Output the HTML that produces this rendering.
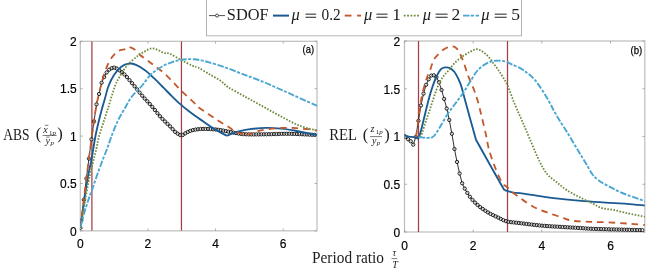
<!DOCTYPE html>
<html><head><meta charset="utf-8"><style>
html,body{margin:0;padding:0;background:#fff;}
body{width:650px;height:271px;overflow:hidden;}
svg{display:block;will-change:transform;}
.tk{font-family:"Liberation Sans",sans-serif;font-size:13.5px;fill:#000;stroke:#000;stroke-width:0.2px;}
.pl{font-family:"Liberation Sans",sans-serif;font-size:11.5px;fill:#000;stroke:#000;stroke-width:0.25px;}
.lg{font-family:"Liberation Serif",serif;font-size:16.5px;fill:#1c1c1c;}
.mu{font-style:italic;}
.dg{font-size:17.5px;}
.it{font-style:italic;}
.fr{font-family:"Liberation Serif",serif;font-size:10px;fill:#222;}
.sub{font-family:"Liberation Serif",serif;font-size:7px;fill:#222;}
.par{font-family:"Liberation Serif",serif;font-size:16.5px;fill:#222;}
</style></head><body>
<svg width="650" height="271" viewBox="0 0 650 271">
<rect x="80.30" y="41.30" width="236.70" height="189.55" fill="#fff" stroke="#bdbdbd" stroke-width="1.2"/>
<line x1="80.30" y1="230.85" x2="80.30" y2="228.45" stroke="#9a9a9a" stroke-width="0.8"/>
<line x1="80.30" y1="41.30" x2="80.30" y2="43.70" stroke="#9a9a9a" stroke-width="0.8"/>
<line x1="147.93" y1="230.85" x2="147.93" y2="228.45" stroke="#9a9a9a" stroke-width="0.8"/>
<line x1="147.93" y1="41.30" x2="147.93" y2="43.70" stroke="#9a9a9a" stroke-width="0.8"/>
<line x1="215.56" y1="230.85" x2="215.56" y2="228.45" stroke="#9a9a9a" stroke-width="0.8"/>
<line x1="215.56" y1="41.30" x2="215.56" y2="43.70" stroke="#9a9a9a" stroke-width="0.8"/>
<line x1="283.19" y1="230.85" x2="283.19" y2="228.45" stroke="#9a9a9a" stroke-width="0.8"/>
<line x1="283.19" y1="41.30" x2="283.19" y2="43.70" stroke="#9a9a9a" stroke-width="0.8"/>
<line x1="80.30" y1="230.85" x2="82.70" y2="230.85" stroke="#9a9a9a" stroke-width="0.8"/>
<line x1="317.00" y1="230.85" x2="314.60" y2="230.85" stroke="#9a9a9a" stroke-width="0.8"/>
<line x1="80.30" y1="183.46" x2="82.70" y2="183.46" stroke="#9a9a9a" stroke-width="0.8"/>
<line x1="317.00" y1="183.46" x2="314.60" y2="183.46" stroke="#9a9a9a" stroke-width="0.8"/>
<line x1="80.30" y1="136.07" x2="82.70" y2="136.07" stroke="#9a9a9a" stroke-width="0.8"/>
<line x1="317.00" y1="136.07" x2="314.60" y2="136.07" stroke="#9a9a9a" stroke-width="0.8"/>
<line x1="80.30" y1="88.69" x2="82.70" y2="88.69" stroke="#9a9a9a" stroke-width="0.8"/>
<line x1="317.00" y1="88.69" x2="314.60" y2="88.69" stroke="#9a9a9a" stroke-width="0.8"/>
<line x1="80.30" y1="41.30" x2="82.70" y2="41.30" stroke="#9a9a9a" stroke-width="0.8"/>
<line x1="317.00" y1="41.30" x2="314.60" y2="41.30" stroke="#9a9a9a" stroke-width="0.8"/>
<rect x="404.50" y="41.00" width="240.30" height="191.00" fill="#fff" stroke="#bdbdbd" stroke-width="1.2"/>
<line x1="404.50" y1="232.00" x2="404.50" y2="229.60" stroke="#9a9a9a" stroke-width="0.8"/>
<line x1="404.50" y1="41.00" x2="404.50" y2="43.40" stroke="#9a9a9a" stroke-width="0.8"/>
<line x1="473.16" y1="232.00" x2="473.16" y2="229.60" stroke="#9a9a9a" stroke-width="0.8"/>
<line x1="473.16" y1="41.00" x2="473.16" y2="43.40" stroke="#9a9a9a" stroke-width="0.8"/>
<line x1="541.81" y1="232.00" x2="541.81" y2="229.60" stroke="#9a9a9a" stroke-width="0.8"/>
<line x1="541.81" y1="41.00" x2="541.81" y2="43.40" stroke="#9a9a9a" stroke-width="0.8"/>
<line x1="610.47" y1="232.00" x2="610.47" y2="229.60" stroke="#9a9a9a" stroke-width="0.8"/>
<line x1="610.47" y1="41.00" x2="610.47" y2="43.40" stroke="#9a9a9a" stroke-width="0.8"/>
<line x1="404.50" y1="232.00" x2="406.90" y2="232.00" stroke="#9a9a9a" stroke-width="0.8"/>
<line x1="644.80" y1="232.00" x2="642.40" y2="232.00" stroke="#9a9a9a" stroke-width="0.8"/>
<line x1="404.50" y1="184.25" x2="406.90" y2="184.25" stroke="#9a9a9a" stroke-width="0.8"/>
<line x1="644.80" y1="184.25" x2="642.40" y2="184.25" stroke="#9a9a9a" stroke-width="0.8"/>
<line x1="404.50" y1="136.50" x2="406.90" y2="136.50" stroke="#9a9a9a" stroke-width="0.8"/>
<line x1="644.80" y1="136.50" x2="642.40" y2="136.50" stroke="#9a9a9a" stroke-width="0.8"/>
<line x1="404.50" y1="88.75" x2="406.90" y2="88.75" stroke="#9a9a9a" stroke-width="0.8"/>
<line x1="644.80" y1="88.75" x2="642.40" y2="88.75" stroke="#9a9a9a" stroke-width="0.8"/>
<line x1="404.50" y1="41.00" x2="406.90" y2="41.00" stroke="#9a9a9a" stroke-width="0.8"/>
<line x1="644.80" y1="41.00" x2="642.40" y2="41.00" stroke="#9a9a9a" stroke-width="0.8"/>
<defs><clipPath id="cl"><rect x="80.30" y="41.30" width="236.70" height="189.55"/></clipPath><clipPath id="cr"><rect x="404.50" y="41.00" width="240.30" height="191.00"/></clipPath></defs>
<g clip-path="url(#cl)">
<line x1="91.90" y1="41.30" x2="91.90" y2="230.85" stroke="#a23e4a" stroke-width="1.25"/>
<line x1="181.45" y1="41.30" x2="181.45" y2="230.85" stroke="#a23e4a" stroke-width="1.25"/>
<path d="M80.40,227.80 L81.31,220.43 L83.85,199.82 L86.39,178.50 L88.92,158.60 L91.46,139.31 L93.99,121.41 L96.53,104.34 L99.07,93.97 L101.60,82.74 L104.14,77.08 L106.68,72.47 L109.21,69.72 L111.75,68.15 L114.28,67.61 L116.82,68.58 L119.36,70.30 L121.89,72.18 L124.43,74.44 L126.96,77.14 L129.50,80.18 L132.04,83.20 L134.57,86.26 L137.11,89.38 L139.64,92.61 L142.18,95.71 L144.72,98.57 L147.25,101.30 L149.79,104.04 L152.32,106.91 L154.86,109.99 L157.40,113.15 L159.93,116.20 L162.47,118.96 L165.00,121.49 L167.54,123.92 L170.08,126.38 L172.61,129.12 L175.15,131.84 L177.69,133.67 L180.22,135.00 L182.76,134.97 L185.29,133.35 L187.83,131.91 L190.37,130.85 L192.90,130.12 L195.44,129.61 L197.97,129.25 L200.51,129.02 L203.05,128.93 L205.58,128.92 L208.12,128.98 L210.65,129.08 L213.19,129.25 L215.73,129.49 L218.26,129.79 L220.80,130.16 L223.33,130.61 L225.87,131.11 L228.41,131.61 L230.94,132.09 L233.48,132.60 L236.01,133.09 L238.55,133.53 L241.09,133.86 L243.62,134.13 L246.16,134.29 L248.70,134.37 L251.23,134.41 L253.77,134.42 L256.30,134.40 L258.84,134.38 L261.38,134.34 L263.91,134.30 L266.45,134.26 L268.98,134.22 L271.52,134.17 L274.06,134.10 L276.59,134.02 L279.13,133.93 L281.66,133.85 L284.20,133.80 L286.74,133.78 L289.27,133.79 L291.81,133.84 L294.34,133.92 L296.88,134.02 L299.42,134.12 L301.95,134.24 L304.49,134.36 L307.02,134.49 L309.56,134.62 L312.10,134.76 L314.63,134.89" fill="none" stroke="#1a1a1a" stroke-width="0.9"/>
<circle cx="80.40" cy="227.80" r="1.65" fill="#fff" fill-opacity="0.6" stroke="#000" stroke-width="0.85"/>
<circle cx="81.31" cy="220.43" r="1.65" fill="#fff" fill-opacity="0.6" stroke="#000" stroke-width="0.85"/>
<circle cx="83.85" cy="199.82" r="1.65" fill="#fff" fill-opacity="0.6" stroke="#000" stroke-width="0.85"/>
<circle cx="86.39" cy="178.50" r="1.65" fill="#fff" fill-opacity="0.6" stroke="#000" stroke-width="0.85"/>
<circle cx="88.92" cy="158.60" r="1.65" fill="#fff" fill-opacity="0.6" stroke="#000" stroke-width="0.85"/>
<circle cx="91.46" cy="139.31" r="1.65" fill="#fff" fill-opacity="0.6" stroke="#000" stroke-width="0.85"/>
<circle cx="93.99" cy="121.41" r="1.65" fill="#fff" fill-opacity="0.6" stroke="#000" stroke-width="0.85"/>
<circle cx="96.53" cy="104.34" r="1.65" fill="#fff" fill-opacity="0.6" stroke="#000" stroke-width="0.85"/>
<circle cx="99.07" cy="93.97" r="1.65" fill="#fff" fill-opacity="0.6" stroke="#000" stroke-width="0.85"/>
<circle cx="101.60" cy="82.74" r="1.65" fill="#fff" fill-opacity="0.6" stroke="#000" stroke-width="0.85"/>
<circle cx="104.14" cy="77.08" r="1.65" fill="#fff" fill-opacity="0.6" stroke="#000" stroke-width="0.85"/>
<circle cx="106.68" cy="72.47" r="1.65" fill="#fff" fill-opacity="0.6" stroke="#000" stroke-width="0.85"/>
<circle cx="109.21" cy="69.72" r="1.65" fill="#fff" fill-opacity="0.6" stroke="#000" stroke-width="0.85"/>
<circle cx="111.75" cy="68.15" r="1.65" fill="#fff" fill-opacity="0.6" stroke="#000" stroke-width="0.85"/>
<circle cx="114.28" cy="67.61" r="1.65" fill="#fff" fill-opacity="0.6" stroke="#000" stroke-width="0.85"/>
<circle cx="116.82" cy="68.58" r="1.65" fill="#fff" fill-opacity="0.6" stroke="#000" stroke-width="0.85"/>
<circle cx="119.36" cy="70.30" r="1.65" fill="#fff" fill-opacity="0.6" stroke="#000" stroke-width="0.85"/>
<circle cx="121.89" cy="72.18" r="1.65" fill="#fff" fill-opacity="0.6" stroke="#000" stroke-width="0.85"/>
<circle cx="124.43" cy="74.44" r="1.65" fill="#fff" fill-opacity="0.6" stroke="#000" stroke-width="0.85"/>
<circle cx="126.96" cy="77.14" r="1.65" fill="#fff" fill-opacity="0.6" stroke="#000" stroke-width="0.85"/>
<circle cx="129.50" cy="80.18" r="1.65" fill="#fff" fill-opacity="0.6" stroke="#000" stroke-width="0.85"/>
<circle cx="132.04" cy="83.20" r="1.65" fill="#fff" fill-opacity="0.6" stroke="#000" stroke-width="0.85"/>
<circle cx="134.57" cy="86.26" r="1.65" fill="#fff" fill-opacity="0.6" stroke="#000" stroke-width="0.85"/>
<circle cx="137.11" cy="89.38" r="1.65" fill="#fff" fill-opacity="0.6" stroke="#000" stroke-width="0.85"/>
<circle cx="139.64" cy="92.61" r="1.65" fill="#fff" fill-opacity="0.6" stroke="#000" stroke-width="0.85"/>
<circle cx="142.18" cy="95.71" r="1.65" fill="#fff" fill-opacity="0.6" stroke="#000" stroke-width="0.85"/>
<circle cx="144.72" cy="98.57" r="1.65" fill="#fff" fill-opacity="0.6" stroke="#000" stroke-width="0.85"/>
<circle cx="147.25" cy="101.30" r="1.65" fill="#fff" fill-opacity="0.6" stroke="#000" stroke-width="0.85"/>
<circle cx="149.79" cy="104.04" r="1.65" fill="#fff" fill-opacity="0.6" stroke="#000" stroke-width="0.85"/>
<circle cx="152.32" cy="106.91" r="1.65" fill="#fff" fill-opacity="0.6" stroke="#000" stroke-width="0.85"/>
<circle cx="154.86" cy="109.99" r="1.65" fill="#fff" fill-opacity="0.6" stroke="#000" stroke-width="0.85"/>
<circle cx="157.40" cy="113.15" r="1.65" fill="#fff" fill-opacity="0.6" stroke="#000" stroke-width="0.85"/>
<circle cx="159.93" cy="116.20" r="1.65" fill="#fff" fill-opacity="0.6" stroke="#000" stroke-width="0.85"/>
<circle cx="162.47" cy="118.96" r="1.65" fill="#fff" fill-opacity="0.6" stroke="#000" stroke-width="0.85"/>
<circle cx="165.00" cy="121.49" r="1.65" fill="#fff" fill-opacity="0.6" stroke="#000" stroke-width="0.85"/>
<circle cx="167.54" cy="123.92" r="1.65" fill="#fff" fill-opacity="0.6" stroke="#000" stroke-width="0.85"/>
<circle cx="170.08" cy="126.38" r="1.65" fill="#fff" fill-opacity="0.6" stroke="#000" stroke-width="0.85"/>
<circle cx="172.61" cy="129.12" r="1.65" fill="#fff" fill-opacity="0.6" stroke="#000" stroke-width="0.85"/>
<circle cx="175.15" cy="131.84" r="1.65" fill="#fff" fill-opacity="0.6" stroke="#000" stroke-width="0.85"/>
<circle cx="177.69" cy="133.67" r="1.65" fill="#fff" fill-opacity="0.6" stroke="#000" stroke-width="0.85"/>
<circle cx="180.22" cy="135.00" r="1.65" fill="#fff" fill-opacity="0.6" stroke="#000" stroke-width="0.85"/>
<circle cx="182.76" cy="134.97" r="1.65" fill="#fff" fill-opacity="0.6" stroke="#000" stroke-width="0.85"/>
<circle cx="185.29" cy="133.35" r="1.65" fill="#fff" fill-opacity="0.6" stroke="#000" stroke-width="0.85"/>
<circle cx="187.83" cy="131.91" r="1.65" fill="#fff" fill-opacity="0.6" stroke="#000" stroke-width="0.85"/>
<circle cx="190.37" cy="130.85" r="1.65" fill="#fff" fill-opacity="0.6" stroke="#000" stroke-width="0.85"/>
<circle cx="192.90" cy="130.12" r="1.65" fill="#fff" fill-opacity="0.6" stroke="#000" stroke-width="0.85"/>
<circle cx="195.44" cy="129.61" r="1.65" fill="#fff" fill-opacity="0.6" stroke="#000" stroke-width="0.85"/>
<circle cx="197.97" cy="129.25" r="1.65" fill="#fff" fill-opacity="0.6" stroke="#000" stroke-width="0.85"/>
<circle cx="200.51" cy="129.02" r="1.65" fill="#fff" fill-opacity="0.6" stroke="#000" stroke-width="0.85"/>
<circle cx="203.05" cy="128.93" r="1.65" fill="#fff" fill-opacity="0.6" stroke="#000" stroke-width="0.85"/>
<circle cx="205.58" cy="128.92" r="1.65" fill="#fff" fill-opacity="0.6" stroke="#000" stroke-width="0.85"/>
<circle cx="208.12" cy="128.98" r="1.65" fill="#fff" fill-opacity="0.6" stroke="#000" stroke-width="0.85"/>
<circle cx="210.65" cy="129.08" r="1.65" fill="#fff" fill-opacity="0.6" stroke="#000" stroke-width="0.85"/>
<circle cx="213.19" cy="129.25" r="1.65" fill="#fff" fill-opacity="0.6" stroke="#000" stroke-width="0.85"/>
<circle cx="215.73" cy="129.49" r="1.65" fill="#fff" fill-opacity="0.6" stroke="#000" stroke-width="0.85"/>
<circle cx="218.26" cy="129.79" r="1.65" fill="#fff" fill-opacity="0.6" stroke="#000" stroke-width="0.85"/>
<circle cx="220.80" cy="130.16" r="1.65" fill="#fff" fill-opacity="0.6" stroke="#000" stroke-width="0.85"/>
<circle cx="223.33" cy="130.61" r="1.65" fill="#fff" fill-opacity="0.6" stroke="#000" stroke-width="0.85"/>
<circle cx="225.87" cy="131.11" r="1.65" fill="#fff" fill-opacity="0.6" stroke="#000" stroke-width="0.85"/>
<circle cx="228.41" cy="131.61" r="1.65" fill="#fff" fill-opacity="0.6" stroke="#000" stroke-width="0.85"/>
<circle cx="230.94" cy="132.09" r="1.65" fill="#fff" fill-opacity="0.6" stroke="#000" stroke-width="0.85"/>
<circle cx="233.48" cy="132.60" r="1.65" fill="#fff" fill-opacity="0.6" stroke="#000" stroke-width="0.85"/>
<circle cx="236.01" cy="133.09" r="1.65" fill="#fff" fill-opacity="0.6" stroke="#000" stroke-width="0.85"/>
<circle cx="238.55" cy="133.53" r="1.65" fill="#fff" fill-opacity="0.6" stroke="#000" stroke-width="0.85"/>
<circle cx="241.09" cy="133.86" r="1.65" fill="#fff" fill-opacity="0.6" stroke="#000" stroke-width="0.85"/>
<circle cx="243.62" cy="134.13" r="1.65" fill="#fff" fill-opacity="0.6" stroke="#000" stroke-width="0.85"/>
<circle cx="246.16" cy="134.29" r="1.65" fill="#fff" fill-opacity="0.6" stroke="#000" stroke-width="0.85"/>
<circle cx="248.70" cy="134.37" r="1.65" fill="#fff" fill-opacity="0.6" stroke="#000" stroke-width="0.85"/>
<circle cx="251.23" cy="134.41" r="1.65" fill="#fff" fill-opacity="0.6" stroke="#000" stroke-width="0.85"/>
<circle cx="253.77" cy="134.42" r="1.65" fill="#fff" fill-opacity="0.6" stroke="#000" stroke-width="0.85"/>
<circle cx="256.30" cy="134.40" r="1.65" fill="#fff" fill-opacity="0.6" stroke="#000" stroke-width="0.85"/>
<circle cx="258.84" cy="134.38" r="1.65" fill="#fff" fill-opacity="0.6" stroke="#000" stroke-width="0.85"/>
<circle cx="261.38" cy="134.34" r="1.65" fill="#fff" fill-opacity="0.6" stroke="#000" stroke-width="0.85"/>
<circle cx="263.91" cy="134.30" r="1.65" fill="#fff" fill-opacity="0.6" stroke="#000" stroke-width="0.85"/>
<circle cx="266.45" cy="134.26" r="1.65" fill="#fff" fill-opacity="0.6" stroke="#000" stroke-width="0.85"/>
<circle cx="268.98" cy="134.22" r="1.65" fill="#fff" fill-opacity="0.6" stroke="#000" stroke-width="0.85"/>
<circle cx="271.52" cy="134.17" r="1.65" fill="#fff" fill-opacity="0.6" stroke="#000" stroke-width="0.85"/>
<circle cx="274.06" cy="134.10" r="1.65" fill="#fff" fill-opacity="0.6" stroke="#000" stroke-width="0.85"/>
<circle cx="276.59" cy="134.02" r="1.65" fill="#fff" fill-opacity="0.6" stroke="#000" stroke-width="0.85"/>
<circle cx="279.13" cy="133.93" r="1.65" fill="#fff" fill-opacity="0.6" stroke="#000" stroke-width="0.85"/>
<circle cx="281.66" cy="133.85" r="1.65" fill="#fff" fill-opacity="0.6" stroke="#000" stroke-width="0.85"/>
<circle cx="284.20" cy="133.80" r="1.65" fill="#fff" fill-opacity="0.6" stroke="#000" stroke-width="0.85"/>
<circle cx="286.74" cy="133.78" r="1.65" fill="#fff" fill-opacity="0.6" stroke="#000" stroke-width="0.85"/>
<circle cx="289.27" cy="133.79" r="1.65" fill="#fff" fill-opacity="0.6" stroke="#000" stroke-width="0.85"/>
<circle cx="291.81" cy="133.84" r="1.65" fill="#fff" fill-opacity="0.6" stroke="#000" stroke-width="0.85"/>
<circle cx="294.34" cy="133.92" r="1.65" fill="#fff" fill-opacity="0.6" stroke="#000" stroke-width="0.85"/>
<circle cx="296.88" cy="134.02" r="1.65" fill="#fff" fill-opacity="0.6" stroke="#000" stroke-width="0.85"/>
<circle cx="299.42" cy="134.12" r="1.65" fill="#fff" fill-opacity="0.6" stroke="#000" stroke-width="0.85"/>
<circle cx="301.95" cy="134.24" r="1.65" fill="#fff" fill-opacity="0.6" stroke="#000" stroke-width="0.85"/>
<circle cx="304.49" cy="134.36" r="1.65" fill="#fff" fill-opacity="0.6" stroke="#000" stroke-width="0.85"/>
<circle cx="307.02" cy="134.49" r="1.65" fill="#fff" fill-opacity="0.6" stroke="#000" stroke-width="0.85"/>
<circle cx="309.56" cy="134.62" r="1.65" fill="#fff" fill-opacity="0.6" stroke="#000" stroke-width="0.85"/>
<circle cx="312.10" cy="134.76" r="1.65" fill="#fff" fill-opacity="0.6" stroke="#000" stroke-width="0.85"/>
<circle cx="314.63" cy="134.89" r="1.65" fill="#fff" fill-opacity="0.6" stroke="#000" stroke-width="0.85"/>
<path d="M80.40,227.80 C81.50,220.17 85.10,193.63 87.00,182.00 C88.90,170.37 90.38,165.70 91.80,158.00 C93.22,150.30 94.10,142.88 95.50,135.80 C96.90,128.72 98.65,121.63 100.20,115.50 C101.75,109.37 103.42,103.92 104.80,99.00 C106.18,94.08 106.97,90.00 108.50,86.00 C110.03,82.00 111.87,78.22 114.00,75.00 C116.13,71.78 118.85,68.60 121.30,66.70 C123.75,64.80 126.25,63.90 128.70,63.60 C131.15,63.30 133.23,63.77 136.00,64.90 C138.77,66.03 142.22,68.10 145.30,70.40 C148.38,72.70 151.43,75.78 154.50,78.70 C157.57,81.62 160.78,84.97 163.70,87.90 C166.62,90.83 169.28,93.63 172.00,96.30 C174.72,98.97 177.33,101.52 180.00,103.90 C182.67,106.28 185.32,108.48 188.00,110.60 C190.68,112.72 193.43,114.72 196.10,116.60 C198.77,118.48 201.25,120.02 204.00,121.90 C206.75,123.78 209.65,126.03 212.60,127.90 C215.55,129.77 219.33,131.80 221.70,133.10 C224.07,134.40 225.95,135.27 226.80,135.70 M226.80,135.70 C227.67,135.37 229.83,134.45 232.00,133.70 C234.17,132.95 236.75,131.95 239.80,131.20 C242.85,130.45 245.97,129.75 250.30,129.20 C254.63,128.65 260.63,128.00 265.80,127.90 C270.97,127.80 276.55,128.17 281.30,128.60 C286.05,129.03 289.98,129.75 294.30,130.50 C298.62,131.25 303.43,132.35 307.20,133.10 C310.97,133.85 315.28,134.68 316.90,135.00" fill="none" stroke="#1a5b94" stroke-width="1.85" stroke-linejoin="round" />
<path d="M80.40,227.80 C81.38,219.70 84.87,190.83 86.30,179.20 C87.73,167.57 88.08,165.07 89.00,158.00 C89.92,150.93 90.93,143.13 91.80,136.80 C92.67,130.47 93.42,125.38 94.20,120.00 C94.98,114.62 95.67,108.93 96.50,104.50 C97.33,100.07 98.45,96.62 99.20,93.40 C99.95,90.18 100.08,88.72 101.00,85.20 C101.92,81.68 103.30,76.30 104.70,72.30 C106.10,68.30 107.70,64.28 109.40,61.20 C111.10,58.12 113.07,55.65 114.90,53.80 C116.73,51.95 118.72,50.87 120.40,50.10 C122.08,49.33 123.62,49.72 125.00,49.20 C126.38,48.68 127.17,47.00 128.70,47.00 C130.23,47.00 132.35,47.92 134.20,49.20 C136.05,50.48 137.65,52.85 139.80,54.70 C141.95,56.55 144.65,58.45 147.10,60.30 C149.55,62.15 151.60,63.60 154.50,65.80 C157.40,68.00 161.17,70.52 164.50,73.50 C167.83,76.48 171.68,80.82 174.50,83.70 C177.32,86.58 177.80,87.33 181.40,90.80 C185.00,94.27 193.03,101.60 196.10,104.50 C199.17,107.40 196.72,105.90 199.80,108.20 C202.88,110.50 209.67,115.08 214.60,118.30 C219.53,121.52 225.83,125.22 229.40,127.50 C232.97,129.78 233.15,130.75 236.00,132.00 C238.85,133.25 244.75,134.50 246.50,135.00 M246.50,135.00 C248.43,134.37 253.80,132.27 258.10,131.20 C262.40,130.13 267.78,129.15 272.30,128.60 C276.82,128.05 281.12,127.97 285.20,127.90 C289.28,127.83 292.70,127.93 296.80,128.20 C300.90,128.47 306.45,129.12 309.80,129.50 C313.15,129.88 315.72,130.33 316.90,130.50" fill="none" stroke="#c2582c" stroke-width="1.8" stroke-dasharray="6.5,5" stroke-linejoin="round" />
<path d="M80.40,227.80 C81.75,220.17 86.45,192.72 88.50,182.00 C90.55,171.28 91.38,169.05 92.70,163.50 C94.02,157.95 95.32,153.32 96.40,148.70 C97.48,144.08 97.65,141.33 99.20,135.80 C100.75,130.27 103.85,121.33 105.70,115.50 C107.55,109.67 108.75,105.72 110.30,100.80 C111.85,95.88 113.47,89.98 115.00,86.00 C116.53,82.02 117.52,80.27 119.50,76.90 C121.48,73.53 123.83,69.33 126.90,65.80 C129.97,62.27 134.83,58.15 137.90,55.70 C140.97,53.25 142.98,52.33 145.30,51.10 C147.62,49.87 149.65,48.47 151.80,48.30 C153.95,48.13 156.22,49.33 158.20,50.10 C160.18,50.87 161.73,52.28 163.70,52.90 C165.67,53.52 167.05,52.58 170.00,53.80 C172.95,55.02 177.65,58.22 181.40,60.20 C185.15,62.18 189.73,64.48 192.50,65.70 C195.27,66.92 195.25,66.12 198.00,67.50 C200.75,68.88 205.30,71.83 209.00,74.00 C212.70,76.17 217.03,78.33 220.20,80.50 C223.37,82.67 224.00,84.38 228.00,87.00 C232.00,89.62 238.43,92.98 244.20,96.20 C249.97,99.42 256.45,102.92 262.60,106.30 C268.75,109.68 274.95,113.27 281.10,116.50 C287.25,119.73 293.67,123.40 299.50,125.70 C305.33,128.00 313.33,129.53 316.10,130.30" fill="none" stroke="#6d8b3c" stroke-width="1.8" stroke-dasharray="1.6,1.5" stroke-linejoin="round" />
<path d="M80.50,227.30 C81.15,224.83 83.07,217.13 84.40,212.50 C85.73,207.87 87.20,203.35 88.50,199.50 C89.80,195.65 90.85,193.23 92.20,189.40 C93.55,185.57 95.05,180.90 96.60,176.50 C98.15,172.10 99.80,167.50 101.50,163.00 C103.20,158.50 105.18,153.83 106.80,149.50 C108.42,145.17 109.38,141.75 111.20,137.00 C113.02,132.25 115.53,125.60 117.70,121.00 C119.87,116.40 121.90,113.40 124.20,109.40 C126.50,105.40 128.58,100.90 131.50,97.00 C134.42,93.10 138.62,89.60 141.70,86.00 C144.78,82.40 147.45,78.10 150.00,75.40 C152.55,72.70 154.55,71.53 157.00,69.80 C159.45,68.07 162.20,66.27 164.70,65.00 C167.20,63.73 169.53,63.00 172.00,62.20 C174.47,61.40 177.00,60.70 179.50,60.20 C182.00,59.70 184.55,59.35 187.00,59.20 C189.45,59.05 191.78,59.10 194.20,59.30 C196.62,59.50 199.03,59.90 201.50,60.40 C203.97,60.90 205.30,61.23 209.00,62.30 C212.70,63.37 218.78,65.10 223.70,66.80 C228.62,68.50 234.12,70.83 238.50,72.50 C242.88,74.17 245.98,75.28 250.00,76.80 C254.02,78.32 258.43,79.90 262.60,81.60 C266.77,83.30 270.77,85.13 275.00,87.00 C279.23,88.87 283.60,90.83 288.00,92.80 C292.40,94.77 296.48,96.60 301.40,98.80 C306.32,101.00 314.82,104.80 317.50,106.00" fill="none" stroke="#4aa6d2" stroke-width="1.9" stroke-dasharray="6.5,1.5,3,1.7" stroke-linejoin="round" />
</g>
<g clip-path="url(#cr)">
<line x1="418.50" y1="41.00" x2="418.50" y2="232.00" stroke="#a23e4a" stroke-width="1.25"/>
<line x1="507.50" y1="41.00" x2="507.50" y2="232.00" stroke="#a23e4a" stroke-width="1.25"/>
<path d="M404.50,136.10 L405.53,137.02 L408.10,139.27 L410.68,141.26 L413.25,144.63 L415.83,136.89 L418.40,120.77 L420.98,105.45 L423.55,93.59 L426.13,84.74 L428.70,79.34 L431.28,75.58 L433.85,75.28 L436.43,77.18 L439.00,82.30 L441.57,89.99 L444.15,98.92 L446.72,108.53 L449.30,120.03 L451.87,133.75 L454.45,148.99 L457.02,161.93 L459.60,173.51 L462.17,183.30 L464.75,188.60 L467.32,192.89 L469.90,196.75 L472.47,199.90 L475.05,202.60 L477.62,204.99 L480.19,207.12 L482.77,209.03 L485.34,210.78 L487.92,212.41 L490.49,213.88 L493.07,215.18 L495.64,216.39 L498.22,217.60 L500.79,218.92 L503.37,220.20 L505.94,221.20 L508.52,221.84 L511.09,222.18 L513.66,222.42 L516.24,222.69 L518.81,223.00 L521.39,223.31 L523.96,223.63 L526.54,223.95 L529.11,224.26 L531.69,224.56 L534.26,224.86 L536.84,225.14 L539.41,225.41 L541.99,225.65 L544.56,225.87 L547.14,226.06 L549.71,226.24 L552.28,226.40 L554.86,226.55 L557.43,226.69 L560.01,226.83 L562.58,226.99 L565.16,227.14 L567.73,227.30 L570.31,227.45 L572.88,227.59 L575.46,227.74 L578.03,227.88 L580.61,228.04 L583.18,228.23 L585.75,228.46 L588.33,228.63 L590.90,228.75 L593.48,228.85 L596.05,228.94 L598.63,229.02 L601.20,229.09 L603.78,229.16 L606.35,229.23 L608.93,229.30 L611.50,229.37 L614.08,229.44 L616.65,229.50 L619.23,229.57 L621.80,229.63 L624.37,229.70 L626.95,229.76 L629.52,229.82 L632.10,229.89 L634.67,229.95 L637.25,230.01 L639.82,230.08 L642.40,230.14" fill="none" stroke="#1a1a1a" stroke-width="0.9"/>
<circle cx="404.50" cy="136.10" r="1.65" fill="#fff" fill-opacity="0.6" stroke="#000" stroke-width="0.85"/>
<circle cx="405.53" cy="137.02" r="1.65" fill="#fff" fill-opacity="0.6" stroke="#000" stroke-width="0.85"/>
<circle cx="408.10" cy="139.27" r="1.65" fill="#fff" fill-opacity="0.6" stroke="#000" stroke-width="0.85"/>
<circle cx="410.68" cy="141.26" r="1.65" fill="#fff" fill-opacity="0.6" stroke="#000" stroke-width="0.85"/>
<circle cx="413.25" cy="144.63" r="1.65" fill="#fff" fill-opacity="0.6" stroke="#000" stroke-width="0.85"/>
<circle cx="415.83" cy="136.89" r="1.65" fill="#fff" fill-opacity="0.6" stroke="#000" stroke-width="0.85"/>
<circle cx="418.40" cy="120.77" r="1.65" fill="#fff" fill-opacity="0.6" stroke="#000" stroke-width="0.85"/>
<circle cx="420.98" cy="105.45" r="1.65" fill="#fff" fill-opacity="0.6" stroke="#000" stroke-width="0.85"/>
<circle cx="423.55" cy="93.59" r="1.65" fill="#fff" fill-opacity="0.6" stroke="#000" stroke-width="0.85"/>
<circle cx="426.13" cy="84.74" r="1.65" fill="#fff" fill-opacity="0.6" stroke="#000" stroke-width="0.85"/>
<circle cx="428.70" cy="79.34" r="1.65" fill="#fff" fill-opacity="0.6" stroke="#000" stroke-width="0.85"/>
<circle cx="431.28" cy="75.58" r="1.65" fill="#fff" fill-opacity="0.6" stroke="#000" stroke-width="0.85"/>
<circle cx="433.85" cy="75.28" r="1.65" fill="#fff" fill-opacity="0.6" stroke="#000" stroke-width="0.85"/>
<circle cx="436.43" cy="77.18" r="1.65" fill="#fff" fill-opacity="0.6" stroke="#000" stroke-width="0.85"/>
<circle cx="439.00" cy="82.30" r="1.65" fill="#fff" fill-opacity="0.6" stroke="#000" stroke-width="0.85"/>
<circle cx="441.57" cy="89.99" r="1.65" fill="#fff" fill-opacity="0.6" stroke="#000" stroke-width="0.85"/>
<circle cx="444.15" cy="98.92" r="1.65" fill="#fff" fill-opacity="0.6" stroke="#000" stroke-width="0.85"/>
<circle cx="446.72" cy="108.53" r="1.65" fill="#fff" fill-opacity="0.6" stroke="#000" stroke-width="0.85"/>
<circle cx="449.30" cy="120.03" r="1.65" fill="#fff" fill-opacity="0.6" stroke="#000" stroke-width="0.85"/>
<circle cx="451.87" cy="133.75" r="1.65" fill="#fff" fill-opacity="0.6" stroke="#000" stroke-width="0.85"/>
<circle cx="454.45" cy="148.99" r="1.65" fill="#fff" fill-opacity="0.6" stroke="#000" stroke-width="0.85"/>
<circle cx="457.02" cy="161.93" r="1.65" fill="#fff" fill-opacity="0.6" stroke="#000" stroke-width="0.85"/>
<circle cx="459.60" cy="173.51" r="1.65" fill="#fff" fill-opacity="0.6" stroke="#000" stroke-width="0.85"/>
<circle cx="462.17" cy="183.30" r="1.65" fill="#fff" fill-opacity="0.6" stroke="#000" stroke-width="0.85"/>
<circle cx="464.75" cy="188.60" r="1.65" fill="#fff" fill-opacity="0.6" stroke="#000" stroke-width="0.85"/>
<circle cx="467.32" cy="192.89" r="1.65" fill="#fff" fill-opacity="0.6" stroke="#000" stroke-width="0.85"/>
<circle cx="469.90" cy="196.75" r="1.65" fill="#fff" fill-opacity="0.6" stroke="#000" stroke-width="0.85"/>
<circle cx="472.47" cy="199.90" r="1.65" fill="#fff" fill-opacity="0.6" stroke="#000" stroke-width="0.85"/>
<circle cx="475.05" cy="202.60" r="1.65" fill="#fff" fill-opacity="0.6" stroke="#000" stroke-width="0.85"/>
<circle cx="477.62" cy="204.99" r="1.65" fill="#fff" fill-opacity="0.6" stroke="#000" stroke-width="0.85"/>
<circle cx="480.19" cy="207.12" r="1.65" fill="#fff" fill-opacity="0.6" stroke="#000" stroke-width="0.85"/>
<circle cx="482.77" cy="209.03" r="1.65" fill="#fff" fill-opacity="0.6" stroke="#000" stroke-width="0.85"/>
<circle cx="485.34" cy="210.78" r="1.65" fill="#fff" fill-opacity="0.6" stroke="#000" stroke-width="0.85"/>
<circle cx="487.92" cy="212.41" r="1.65" fill="#fff" fill-opacity="0.6" stroke="#000" stroke-width="0.85"/>
<circle cx="490.49" cy="213.88" r="1.65" fill="#fff" fill-opacity="0.6" stroke="#000" stroke-width="0.85"/>
<circle cx="493.07" cy="215.18" r="1.65" fill="#fff" fill-opacity="0.6" stroke="#000" stroke-width="0.85"/>
<circle cx="495.64" cy="216.39" r="1.65" fill="#fff" fill-opacity="0.6" stroke="#000" stroke-width="0.85"/>
<circle cx="498.22" cy="217.60" r="1.65" fill="#fff" fill-opacity="0.6" stroke="#000" stroke-width="0.85"/>
<circle cx="500.79" cy="218.92" r="1.65" fill="#fff" fill-opacity="0.6" stroke="#000" stroke-width="0.85"/>
<circle cx="503.37" cy="220.20" r="1.65" fill="#fff" fill-opacity="0.6" stroke="#000" stroke-width="0.85"/>
<circle cx="505.94" cy="221.20" r="1.65" fill="#fff" fill-opacity="0.6" stroke="#000" stroke-width="0.85"/>
<circle cx="508.52" cy="221.84" r="1.65" fill="#fff" fill-opacity="0.6" stroke="#000" stroke-width="0.85"/>
<circle cx="511.09" cy="222.18" r="1.65" fill="#fff" fill-opacity="0.6" stroke="#000" stroke-width="0.85"/>
<circle cx="513.66" cy="222.42" r="1.65" fill="#fff" fill-opacity="0.6" stroke="#000" stroke-width="0.85"/>
<circle cx="516.24" cy="222.69" r="1.65" fill="#fff" fill-opacity="0.6" stroke="#000" stroke-width="0.85"/>
<circle cx="518.81" cy="223.00" r="1.65" fill="#fff" fill-opacity="0.6" stroke="#000" stroke-width="0.85"/>
<circle cx="521.39" cy="223.31" r="1.65" fill="#fff" fill-opacity="0.6" stroke="#000" stroke-width="0.85"/>
<circle cx="523.96" cy="223.63" r="1.65" fill="#fff" fill-opacity="0.6" stroke="#000" stroke-width="0.85"/>
<circle cx="526.54" cy="223.95" r="1.65" fill="#fff" fill-opacity="0.6" stroke="#000" stroke-width="0.85"/>
<circle cx="529.11" cy="224.26" r="1.65" fill="#fff" fill-opacity="0.6" stroke="#000" stroke-width="0.85"/>
<circle cx="531.69" cy="224.56" r="1.65" fill="#fff" fill-opacity="0.6" stroke="#000" stroke-width="0.85"/>
<circle cx="534.26" cy="224.86" r="1.65" fill="#fff" fill-opacity="0.6" stroke="#000" stroke-width="0.85"/>
<circle cx="536.84" cy="225.14" r="1.65" fill="#fff" fill-opacity="0.6" stroke="#000" stroke-width="0.85"/>
<circle cx="539.41" cy="225.41" r="1.65" fill="#fff" fill-opacity="0.6" stroke="#000" stroke-width="0.85"/>
<circle cx="541.99" cy="225.65" r="1.65" fill="#fff" fill-opacity="0.6" stroke="#000" stroke-width="0.85"/>
<circle cx="544.56" cy="225.87" r="1.65" fill="#fff" fill-opacity="0.6" stroke="#000" stroke-width="0.85"/>
<circle cx="547.14" cy="226.06" r="1.65" fill="#fff" fill-opacity="0.6" stroke="#000" stroke-width="0.85"/>
<circle cx="549.71" cy="226.24" r="1.65" fill="#fff" fill-opacity="0.6" stroke="#000" stroke-width="0.85"/>
<circle cx="552.28" cy="226.40" r="1.65" fill="#fff" fill-opacity="0.6" stroke="#000" stroke-width="0.85"/>
<circle cx="554.86" cy="226.55" r="1.65" fill="#fff" fill-opacity="0.6" stroke="#000" stroke-width="0.85"/>
<circle cx="557.43" cy="226.69" r="1.65" fill="#fff" fill-opacity="0.6" stroke="#000" stroke-width="0.85"/>
<circle cx="560.01" cy="226.83" r="1.65" fill="#fff" fill-opacity="0.6" stroke="#000" stroke-width="0.85"/>
<circle cx="562.58" cy="226.99" r="1.65" fill="#fff" fill-opacity="0.6" stroke="#000" stroke-width="0.85"/>
<circle cx="565.16" cy="227.14" r="1.65" fill="#fff" fill-opacity="0.6" stroke="#000" stroke-width="0.85"/>
<circle cx="567.73" cy="227.30" r="1.65" fill="#fff" fill-opacity="0.6" stroke="#000" stroke-width="0.85"/>
<circle cx="570.31" cy="227.45" r="1.65" fill="#fff" fill-opacity="0.6" stroke="#000" stroke-width="0.85"/>
<circle cx="572.88" cy="227.59" r="1.65" fill="#fff" fill-opacity="0.6" stroke="#000" stroke-width="0.85"/>
<circle cx="575.46" cy="227.74" r="1.65" fill="#fff" fill-opacity="0.6" stroke="#000" stroke-width="0.85"/>
<circle cx="578.03" cy="227.88" r="1.65" fill="#fff" fill-opacity="0.6" stroke="#000" stroke-width="0.85"/>
<circle cx="580.61" cy="228.04" r="1.65" fill="#fff" fill-opacity="0.6" stroke="#000" stroke-width="0.85"/>
<circle cx="583.18" cy="228.23" r="1.65" fill="#fff" fill-opacity="0.6" stroke="#000" stroke-width="0.85"/>
<circle cx="585.75" cy="228.46" r="1.65" fill="#fff" fill-opacity="0.6" stroke="#000" stroke-width="0.85"/>
<circle cx="588.33" cy="228.63" r="1.65" fill="#fff" fill-opacity="0.6" stroke="#000" stroke-width="0.85"/>
<circle cx="590.90" cy="228.75" r="1.65" fill="#fff" fill-opacity="0.6" stroke="#000" stroke-width="0.85"/>
<circle cx="593.48" cy="228.85" r="1.65" fill="#fff" fill-opacity="0.6" stroke="#000" stroke-width="0.85"/>
<circle cx="596.05" cy="228.94" r="1.65" fill="#fff" fill-opacity="0.6" stroke="#000" stroke-width="0.85"/>
<circle cx="598.63" cy="229.02" r="1.65" fill="#fff" fill-opacity="0.6" stroke="#000" stroke-width="0.85"/>
<circle cx="601.20" cy="229.09" r="1.65" fill="#fff" fill-opacity="0.6" stroke="#000" stroke-width="0.85"/>
<circle cx="603.78" cy="229.16" r="1.65" fill="#fff" fill-opacity="0.6" stroke="#000" stroke-width="0.85"/>
<circle cx="606.35" cy="229.23" r="1.65" fill="#fff" fill-opacity="0.6" stroke="#000" stroke-width="0.85"/>
<circle cx="608.93" cy="229.30" r="1.65" fill="#fff" fill-opacity="0.6" stroke="#000" stroke-width="0.85"/>
<circle cx="611.50" cy="229.37" r="1.65" fill="#fff" fill-opacity="0.6" stroke="#000" stroke-width="0.85"/>
<circle cx="614.08" cy="229.44" r="1.65" fill="#fff" fill-opacity="0.6" stroke="#000" stroke-width="0.85"/>
<circle cx="616.65" cy="229.50" r="1.65" fill="#fff" fill-opacity="0.6" stroke="#000" stroke-width="0.85"/>
<circle cx="619.23" cy="229.57" r="1.65" fill="#fff" fill-opacity="0.6" stroke="#000" stroke-width="0.85"/>
<circle cx="621.80" cy="229.63" r="1.65" fill="#fff" fill-opacity="0.6" stroke="#000" stroke-width="0.85"/>
<circle cx="624.37" cy="229.70" r="1.65" fill="#fff" fill-opacity="0.6" stroke="#000" stroke-width="0.85"/>
<circle cx="626.95" cy="229.76" r="1.65" fill="#fff" fill-opacity="0.6" stroke="#000" stroke-width="0.85"/>
<circle cx="629.52" cy="229.82" r="1.65" fill="#fff" fill-opacity="0.6" stroke="#000" stroke-width="0.85"/>
<circle cx="632.10" cy="229.89" r="1.65" fill="#fff" fill-opacity="0.6" stroke="#000" stroke-width="0.85"/>
<circle cx="634.67" cy="229.95" r="1.65" fill="#fff" fill-opacity="0.6" stroke="#000" stroke-width="0.85"/>
<circle cx="637.25" cy="230.01" r="1.65" fill="#fff" fill-opacity="0.6" stroke="#000" stroke-width="0.85"/>
<circle cx="639.82" cy="230.08" r="1.65" fill="#fff" fill-opacity="0.6" stroke="#000" stroke-width="0.85"/>
<circle cx="642.40" cy="230.14" r="1.65" fill="#fff" fill-opacity="0.6" stroke="#000" stroke-width="0.85"/>
<path d="M404.20,135.40 C404.98,135.60 407.20,136.30 408.90,136.60 C410.60,136.90 412.83,136.83 414.40,137.20 C415.97,137.57 417.65,138.53 418.30,138.80 M418.30,138.80 C418.55,138.08 419.22,136.38 419.80,134.50 C420.38,132.62 421.02,130.55 421.80,127.50 C422.58,124.45 423.27,121.20 424.50,116.20 C425.73,111.20 427.85,102.45 429.20,97.50 C430.55,92.55 431.42,89.92 432.60,86.50 C433.78,83.08 434.90,79.88 436.30,77.00 C437.70,74.12 439.47,70.80 441.00,69.20 C442.53,67.60 444.02,67.58 445.50,67.40 C446.98,67.22 448.43,67.37 449.90,68.10 C451.37,68.83 452.87,69.95 454.30,71.80 C455.73,73.65 457.27,76.58 458.50,79.20 C459.73,81.82 460.62,84.03 461.70,87.50 C462.78,90.97 462.62,91.28 465.00,100.00 C467.38,108.72 474.17,133.17 476.00,139.80 M476.00,139.80 C480.13,147.17 496.05,175.63 500.80,184.00 C505.55,192.37 503.88,189.00 504.50,190.00 M504.50,190.00 C505.98,190.43 510.82,192.08 513.40,192.60 C515.98,193.12 515.33,192.48 520.00,193.10 C524.67,193.72 534.27,195.30 541.40,196.30 C548.53,197.30 555.67,198.28 562.80,199.10 C569.93,199.92 577.07,200.60 584.20,201.20 C591.33,201.80 598.47,202.27 605.60,202.70 C612.73,203.13 620.47,203.33 627.00,203.80 C633.53,204.27 641.83,205.22 644.80,205.50" fill="none" stroke="#1a5b94" stroke-width="1.85" stroke-linejoin="round" />
<path d="M416.00,137.00 C416.23,135.42 416.78,132.15 417.40,127.50 C418.02,122.85 418.93,114.43 419.70,109.10 C420.47,103.77 421.20,99.43 422.00,95.50 C422.80,91.57 423.63,88.58 424.50,85.50 C425.37,82.42 426.23,79.65 427.20,77.00 C428.17,74.35 429.28,72.32 430.30,69.60 C431.32,66.88 432.07,63.17 433.30,60.70 C434.53,58.23 435.98,56.65 437.70,54.80 C439.42,52.95 441.62,50.97 443.60,49.60 C445.58,48.23 447.87,47.10 449.60,46.60 C451.33,46.10 452.65,46.10 454.00,46.60 C455.35,47.10 456.60,48.23 457.70,49.60 C458.80,50.97 459.62,52.70 460.60,54.80 C461.58,56.90 462.62,59.50 463.60,62.20 C464.58,64.90 465.52,68.17 466.50,71.00 C467.48,73.83 468.25,76.08 469.50,79.20 C470.75,82.32 472.63,86.10 474.00,89.70 C475.37,93.30 476.47,96.50 477.70,100.80 C478.93,105.10 480.02,109.82 481.40,115.50 C482.78,121.18 484.77,129.35 486.00,134.90 C487.23,140.45 487.42,143.72 488.80,148.80 C490.18,153.88 492.15,159.87 494.30,165.40 C496.45,170.93 499.52,178.32 501.70,182.00 C503.88,185.68 505.43,185.67 507.40,187.50 C509.37,189.33 511.43,191.28 513.50,193.00 C515.57,194.72 517.63,196.22 519.80,197.80 C521.97,199.38 524.18,200.97 526.50,202.50 C528.82,204.03 531.37,205.75 533.70,207.00 C536.03,208.25 538.20,209.07 540.50,210.00 C542.80,210.93 544.92,211.68 547.50,212.60 C550.08,213.52 553.23,214.55 556.00,215.50 C558.77,216.45 561.37,217.42 564.10,218.30 C566.83,219.18 568.08,220.22 572.40,220.80 C576.72,221.38 584.02,221.53 590.00,221.80 C595.98,222.07 601.97,222.10 608.30,222.40 C614.63,222.70 621.72,223.17 628.00,223.60 C634.28,224.03 643.00,224.77 646.00,225.00" fill="none" stroke="#c2582c" stroke-width="1.8" stroke-dasharray="6.5,5" stroke-linejoin="round" />
<path d="M420.30,137.30 C420.60,136.58 421.22,135.55 422.10,133.00 C422.98,130.45 424.42,125.58 425.60,122.00 C426.78,118.42 428.00,115.08 429.20,111.50 C430.40,107.92 431.62,104.05 432.80,100.50 C433.98,96.95 435.13,93.23 436.30,90.20 C437.47,87.17 438.62,84.62 439.80,82.30 C440.98,79.98 442.02,78.18 443.40,76.30 C444.78,74.42 446.08,73.35 448.10,71.00 C450.12,68.65 453.03,64.65 455.50,62.20 C457.97,59.75 460.45,58.03 462.90,56.30 C465.35,54.57 468.03,52.98 470.20,51.80 C472.37,50.62 474.22,49.45 475.90,49.20 C477.58,48.95 478.82,49.62 480.30,50.30 C481.78,50.98 483.32,52.07 484.80,53.30 C486.28,54.53 487.73,55.98 489.20,57.70 C490.67,59.42 492.12,61.62 493.60,63.60 C495.08,65.58 496.62,67.45 498.10,69.60 C499.58,71.75 500.95,73.92 502.50,76.50 C504.05,79.08 505.35,80.47 507.40,85.10 C509.45,89.73 512.28,98.18 514.80,104.30 C517.32,110.42 519.88,115.75 522.50,121.80 C525.12,127.85 527.67,134.02 530.50,140.60 C533.33,147.18 536.70,155.70 539.50,161.30 C542.30,166.90 544.50,170.77 547.30,174.20 C550.10,177.63 553.08,179.27 556.30,181.90 C559.52,184.53 562.67,187.42 566.60,190.00 C570.53,192.58 575.55,195.15 579.90,197.40 C584.25,199.65 589.18,201.77 592.70,203.50 C596.22,205.23 598.62,206.88 601.00,207.80 C603.38,208.72 604.83,208.63 607.00,209.00 C609.17,209.37 611.50,209.50 614.00,210.00 C616.50,210.50 619.13,211.33 622.00,212.00 C624.87,212.67 627.20,213.17 631.20,214.00 C635.20,214.83 643.53,216.50 646.00,217.00" fill="none" stroke="#6d8b3c" stroke-width="1.8" stroke-dasharray="1.6,1.5" stroke-linejoin="round" />
<path d="M418.50,137.00 C419.58,137.13 422.92,137.67 425.00,137.80 C427.08,137.93 430.00,137.80 431.00,137.80 M431.00,137.80 C431.58,137.42 433.00,137.30 434.50,135.50 C436.00,133.70 437.80,130.58 440.00,127.00 C442.20,123.42 445.20,117.83 447.70,114.00 C450.20,110.17 452.78,107.00 455.00,104.00 C457.22,101.00 459.17,98.58 461.00,96.00 C462.83,93.42 464.35,91.08 466.00,88.50 C467.65,85.92 469.25,83.17 470.90,80.50 C472.55,77.83 474.08,74.82 475.90,72.50 C477.72,70.18 479.58,68.32 481.80,66.60 C484.02,64.88 486.73,63.18 489.20,62.20 C491.67,61.22 493.88,60.82 496.60,60.70 C499.32,60.58 502.97,60.88 505.50,61.50 C508.03,62.12 508.78,62.93 511.80,64.40 C514.82,65.87 519.65,67.58 523.60,70.30 C527.55,73.02 531.55,76.02 535.50,80.70 C539.45,85.38 543.88,92.77 547.30,98.40 C550.72,104.03 552.70,108.85 556.00,114.50 C559.30,120.15 563.42,126.28 567.10,132.30 C570.78,138.32 574.95,145.40 578.10,150.60 C581.25,155.80 583.60,159.52 586.00,163.50 C588.40,167.48 590.50,171.78 592.50,174.50 C594.50,177.22 596.08,178.25 598.00,179.80 C599.92,181.35 599.93,181.60 604.00,183.80 C608.07,186.00 615.40,190.05 622.40,193.00 C629.40,195.95 642.07,200.08 646.00,201.50" fill="none" stroke="#4aa6d2" stroke-width="1.9" stroke-dasharray="6.5,1.5,3,1.7" stroke-linejoin="round" />
</g>
<text transform="translate(80.30,247.65) scale(0.89,1)" text-anchor="middle" class="tk">0</text>
<text transform="translate(147.93,247.65) scale(0.89,1)" text-anchor="middle" class="tk">2</text>
<text transform="translate(215.56,247.65) scale(0.89,1)" text-anchor="middle" class="tk">4</text>
<text transform="translate(283.19,247.65) scale(0.89,1)" text-anchor="middle" class="tk">6</text>
<text transform="translate(76.70,235.65) scale(0.89,1)" text-anchor="end" class="tk">0</text>
<text transform="translate(76.70,188.26) scale(0.89,1)" text-anchor="end" class="tk">0.5</text>
<text transform="translate(76.70,140.88) scale(0.89,1)" text-anchor="end" class="tk">1</text>
<text transform="translate(76.70,93.49) scale(0.89,1)" text-anchor="end" class="tk">1.5</text>
<text transform="translate(76.70,46.10) scale(0.89,1)" text-anchor="end" class="tk">2</text>
<text transform="translate(404.50,249.50) scale(0.89,1)" text-anchor="middle" class="tk">0</text>
<text transform="translate(473.16,249.50) scale(0.89,1)" text-anchor="middle" class="tk">2</text>
<text transform="translate(541.81,249.50) scale(0.89,1)" text-anchor="middle" class="tk">4</text>
<text transform="translate(610.47,249.50) scale(0.89,1)" text-anchor="middle" class="tk">6</text>
<text transform="translate(400.10,236.80) scale(0.89,1)" text-anchor="end" class="tk">0</text>
<text transform="translate(400.10,189.05) scale(0.89,1)" text-anchor="end" class="tk">0.5</text>
<text transform="translate(400.10,141.30) scale(0.89,1)" text-anchor="end" class="tk">1</text>
<text transform="translate(400.10,93.55) scale(0.89,1)" text-anchor="end" class="tk">1.5</text>
<text transform="translate(400.10,45.80) scale(0.89,1)" text-anchor="end" class="tk">2</text>
<text x="302.6" y="52.8" class="pl" textLength="11.5" lengthAdjust="spacingAndGlyphs">(a)</text>
<text x="630.5" y="54.2" class="pl" textLength="11.8" lengthAdjust="spacingAndGlyphs">(b)</text>
<rect x="206.5" y="-5" width="315" height="40.8" fill="#fff" stroke="#b4b4b4" stroke-width="1"/>
<line x1="209" y1="15.6" x2="225" y2="15.6" stroke="#222" stroke-width="0.8"/>
<circle cx="217" cy="15.6" r="1.5" fill="#fff" stroke="#222" stroke-width="0.8"/>
<text x="226.8" y="20.3" class="lg" style="font-size:17.6px" textLength="41.8" lengthAdjust="spacingAndGlyphs">SDOF</text>
<line x1="273" y1="15.6" x2="289" y2="15.6" stroke="#1a5b94" stroke-width="2"/>
<text x="291.5" y="20.2" class="lg mu">μ</text>
<line x1="305.5" y1="14.15" x2="316.2" y2="14.15" stroke="#151515" stroke-width="0.95"/><line x1="305.5" y1="17.25" x2="316.2" y2="17.25" stroke="#151515" stroke-width="0.95"/>
<text x="321.6" y="20.3" class="lg dg" textLength="19.2" lengthAdjust="spacingAndGlyphs">0.2</text>
<text x="363.9" y="20.2" class="lg mu">μ</text>
<line x1="376.4" y1="14.15" x2="387.5" y2="14.15" stroke="#151515" stroke-width="0.95"/><line x1="376.4" y1="17.25" x2="387.5" y2="17.25" stroke="#151515" stroke-width="0.95"/>
<text x="392.2" y="20.3" class="lg dg">1</text>
<text x="422.7" y="20.2" class="lg mu">μ</text>
<line x1="435.6" y1="14.15" x2="447.6" y2="14.15" stroke="#151515" stroke-width="0.95"/><line x1="435.6" y1="17.25" x2="447.6" y2="17.25" stroke="#151515" stroke-width="0.95"/>
<text x="451.6" y="20.3" class="lg dg">2</text>
<text x="481.2" y="20.2" class="lg mu">μ</text>
<line x1="494.7" y1="14.15" x2="506.7" y2="14.15" stroke="#151515" stroke-width="0.95"/><line x1="494.7" y1="17.25" x2="506.7" y2="17.25" stroke="#151515" stroke-width="0.95"/>
<text x="511.2" y="20.3" class="lg dg">5</text>
<line x1="344.7" y1="15.6" x2="351.5" y2="15.6" stroke="#c2582c" stroke-width="1.9"/>
<line x1="357.1" y1="15.6" x2="361" y2="15.6" stroke="#c2582c" stroke-width="1.9"/>
<line x1="403.8" y1="15.6" x2="419" y2="15.6" stroke="#6d8b3c" stroke-width="1.8" stroke-dasharray="1.8,1.55"/>
<line x1="463" y1="15.6" x2="479" y2="15.6" stroke="#4aa6d2" stroke-width="1.8" stroke-dasharray="6.5,1.2,3.3,1.7"/>
<text x="3.3" y="139.5" class="lg" textLength="26.2" lengthAdjust="spacingAndGlyphs">ABS</text>
<text x="329.2" y="140.4" class="lg" textLength="27.7" lengthAdjust="spacingAndGlyphs">REL</text>
<text x="312" y="262.5" class="lg" textLength="72" lengthAdjust="spacingAndGlyphs">Period ratio</text>
<text x="394.3" y="255.6" class="fr it" text-anchor="middle">τ</text>
<line x1="391.5" y1="258.6" x2="397.3" y2="258.6" stroke="#222" stroke-width="0.6"/>
<text x="395" y="267.8" class="fr it" text-anchor="middle">T</text>
<text x="35.8" y="139" class="par">(</text>
<text x="57.2" y="139" class="par">)</text>
<text x="43.2" y="133" class="fr it">x</text>
<line x1="44.8" y1="125.3" x2="48.4" y2="125.3" stroke="#222" stroke-width="0.6"/>
<text x="49" y="134.6" class="sub">1</text><text x="52.4" y="134.6" class="sub it">p</text>
<line x1="42.7" y1="135.5" x2="56.6" y2="135.5" stroke="#222" stroke-width="0.6"/>
<line x1="46.2" y1="137.1" x2="49.6" y2="137.1" stroke="#222" stroke-width="0.6"/>
<text x="45.6" y="143.6" class="fr it">y</text>
<text x="50.4" y="145" class="sub it">p</text>
<text x="362.8" y="139.6" class="par">(</text>
<text x="384.2" y="139.6" class="par">)</text>
<text x="370.5" y="132.2" class="fr it">z</text>
<text x="375.8" y="134.4" class="sub">1</text><text x="379.2" y="134.4" class="sub it">p</text>
<line x1="370" y1="136.6" x2="382.1" y2="136.6" stroke="#222" stroke-width="0.6"/>
<text x="372" y="143.8" class="fr it">y</text>
<text x="376.7" y="145.2" class="sub it">p</text>
</svg>
</body></html>
